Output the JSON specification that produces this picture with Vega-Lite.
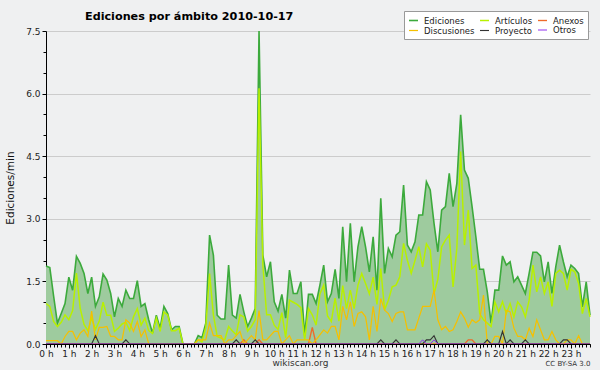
{
"$schema": "https://vega.github.io/schema/vega-lite/v6.json",
"width": 544, "height": 313,
"autosize": {"type": "none"},
"padding": {"left": 46, "top": 31, "right": 10, "bottom": 26},
"background": "#eff0f1",
"title": {"text": "Ediciones por ámbito  2010-10-17", "anchor": "start", "frame": "group", "dx": 39, "dy": 21, "fontSize": 11.2, "font": "DejaVu Sans", "fontWeight": "bold", "color": "#000000", "baseline": "alphabetic", "offset": 0},
"config": {"view": {"stroke": null, "fill": "#eff0f1"}, "font": "DejaVu Sans"},
"data": {"values": [
{"t":0,"Ediciones":1.87,"Artículos":0.97,"Discusiones":0.08,"Anexos":0,"Proyecto":0,"Otros":0},
{"t":10,"Ediciones":1.83,"Artículos":0.90,"Discusiones":0.08,"Anexos":0,"Proyecto":0,"Otros":0},
{"t":20,"Ediciones":1.15,"Artículos":0.54,"Discusiones":0.08,"Anexos":0,"Proyecto":0,"Otros":0},
{"t":30,"Ediciones":0.50,"Artículos":0.42,"Discusiones":0.08,"Anexos":0,"Proyecto":0,"Otros":0},
{"t":40,"Ediciones":0.73,"Artículos":0.52,"Discusiones":0,"Anexos":0,"Proyecto":0,"Otros":0},
{"t":50,"Ediciones":0.97,"Artículos":0.70,"Discusiones":0.18,"Anexos":0,"Proyecto":0,"Otros":0},
{"t":60,"Ediciones":1.60,"Artículos":0.58,"Discusiones":0.30,"Anexos":0,"Proyecto":0,"Otros":0},
{"t":70,"Ediciones":1.29,"Artículos":0.80,"Discusiones":0.30,"Anexos":0,"Proyecto":0,"Otros":0},
{"t":80,"Ediciones":2.10,"Artículos":1.70,"Discusiones":0.10,"Anexos":0,"Proyecto":0,"Otros":0},
{"t":90,"Ediciones":1.93,"Artículos":0.85,"Discusiones":0.26,"Anexos":0,"Proyecto":0,"Otros":0},
{"t":100,"Ediciones":1.69,"Artículos":0.47,"Discusiones":0.34,"Anexos":0,"Proyecto":0,"Otros":0},
{"t":110,"Ediciones":1.21,"Artículos":0.32,"Discusiones":0.18,"Anexos":0,"Proyecto":0,"Otros":0},
{"t":120,"Ediciones":1.60,"Artículos":0.62,"Discusiones":0.79,"Anexos":0,"Proyecto":0,"Otros":0},
{"t":130,"Ediciones":0.90,"Artículos":0.35,"Discusiones":0.10,"Anexos":0,"Proyecto":0.2,"Otros":0},
{"t":140,"Ediciones":1.13,"Artículos":0.55,"Discusiones":0.40,"Anexos":0,"Proyecto":0,"Otros":0},
{"t":150,"Ediciones":1.68,"Artículos":1.00,"Discusiones":0.40,"Anexos":0,"Proyecto":0,"Otros":0},
{"t":160,"Ediciones":1.53,"Artículos":0.69,"Discusiones":0.42,"Anexos":0,"Proyecto":0,"Otros":0},
{"t":170,"Ediciones":1.21,"Artículos":0.69,"Discusiones":0.18,"Anexos":0,"Proyecto":0,"Otros":0},
{"t":180,"Ediciones":0.65,"Artículos":0.30,"Discusiones":0.18,"Anexos":0,"Proyecto":0,"Otros":0},
{"t":190,"Ediciones":1.09,"Artículos":0.38,"Discusiones":0.10,"Anexos":0,"Proyecto":0,"Otros":0},
{"t":200,"Ediciones":0.90,"Artículos":0.48,"Discusiones":0.10,"Anexos":0,"Proyecto":0,"Otros":0},
{"t":210,"Ediciones":1.29,"Artículos":0.52,"Discusiones":0.58,"Anexos":0,"Proyecto":0.1,"Otros":0},
{"t":220,"Ediciones":1.09,"Artículos":0.32,"Discusiones":0.50,"Anexos":0,"Proyecto":0,"Otros":0},
{"t":230,"Ediciones":1.09,"Artículos":0.65,"Discusiones":0.30,"Anexos":0,"Proyecto":0,"Otros":0},
{"t":240,"Ediciones":1.52,"Artículos":0.85,"Discusiones":0.54,"Anexos":0,"Proyecto":0,"Otros":0},
{"t":250,"Ediciones":0.90,"Artículos":0.45,"Discusiones":0.18,"Anexos":0,"Proyecto":0,"Otros":0},
{"t":260,"Ediciones":0.97,"Artículos":0.62,"Discusiones":0.34,"Anexos":0,"Proyecto":0,"Otros":0},
{"t":270,"Ediciones":0.58,"Artículos":0.32,"Discusiones":0,"Anexos":0,"Proyecto":0,"Otros":0},
{"t":280,"Ediciones":0.26,"Artículos":0.25,"Discusiones":0,"Anexos":0,"Proyecto":0,"Otros":0},
{"t":290,"Ediciones":0.69,"Artículos":0.62,"Discusiones":0,"Anexos":0,"Proyecto":0,"Otros":0},
{"t":300,"Ediciones":0.38,"Artículos":0.30,"Discusiones":0,"Anexos":0,"Proyecto":0,"Otros":0},
{"t":310,"Ediciones":0.90,"Artículos":0.77,"Discusiones":0,"Anexos":0,"Proyecto":0,"Otros":0},
{"t":320,"Ediciones":0.73,"Artículos":0.69,"Discusiones":0,"Anexos":0,"Proyecto":0,"Otros":0},
{"t":330,"Ediciones":0.34,"Artículos":0.32,"Discusiones":0,"Anexos":0,"Proyecto":0,"Otros":0},
{"t":340,"Ediciones":0.42,"Artículos":0.32,"Discusiones":0,"Anexos":0,"Proyecto":0,"Otros":0},
{"t":350,"Ediciones":0.42,"Artículos":0.38,"Discusiones":0,"Anexos":0,"Proyecto":0,"Otros":0},
{"t":360,"Ediciones":0,"Artículos":0,"Discusiones":0,"Anexos":0,"Proyecto":0,"Otros":0},
{"t":370,"Ediciones":0,"Artículos":0,"Discusiones":0,"Anexos":0,"Proyecto":0,"Otros":0},
{"t":380,"Ediciones":0,"Artículos":0,"Discusiones":0,"Anexos":0,"Proyecto":0,"Otros":0},
{"t":390,"Ediciones":0,"Artículos":0,"Discusiones":0,"Anexos":0,"Proyecto":0,"Otros":0},
{"t":400,"Ediciones":0.20,"Artículos":0.10,"Discusiones":0.10,"Anexos":0,"Proyecto":0,"Otros":0},
{"t":410,"Ediciones":0.15,"Artículos":0.05,"Discusiones":0.10,"Anexos":0,"Proyecto":0,"Otros":0},
{"t":420,"Ediciones":0.50,"Artículos":0.40,"Discusiones":0.10,"Anexos":0,"Proyecto":0,"Otros":0},
{"t":430,"Ediciones":2.61,"Artículos":1.69,"Discusiones":0.50,"Anexos":0,"Proyecto":0,"Otros":0},
{"t":440,"Ediciones":2.13,"Artículos":0.70,"Discusiones":0.20,"Anexos":0,"Proyecto":0,"Otros":0},
{"t":450,"Ediciones":0.69,"Artículos":0.18,"Discusiones":0.20,"Anexos":0,"Proyecto":0,"Otros":0},
{"t":460,"Ediciones":0.60,"Artículos":0.14,"Discusiones":0.20,"Anexos":0,"Proyecto":0,"Otros":0},
{"t":470,"Ediciones":0.60,"Artículos":0.10,"Discusiones":0,"Anexos":0,"Proyecto":0,"Otros":0},
{"t":480,"Ediciones":1.89,"Artículos":0.42,"Discusiones":0.10,"Anexos":0,"Proyecto":0,"Otros":0},
{"t":490,"Ediciones":0.69,"Artículos":0.31,"Discusiones":0.10,"Anexos":0,"Proyecto":0,"Otros":0},
{"t":500,"Ediciones":0.62,"Artículos":0.22,"Discusiones":0.20,"Anexos":0,"Proyecto":0.1,"Otros":0},
{"t":510,"Ediciones":1.19,"Artículos":0.70,"Discusiones":0.30,"Anexos":0,"Proyecto":0,"Otros":0},
{"t":520,"Ediciones":0.77,"Artículos":0.65,"Discusiones":0,"Anexos":0.1,"Proyecto":0,"Otros":0},
{"t":530,"Ediciones":0.42,"Artículos":0.31,"Discusiones":0.10,"Anexos":0,"Proyecto":0,"Otros":0},
{"t":540,"Ediciones":0.62,"Artículos":0.42,"Discusiones":0.20,"Anexos":0,"Proyecto":0,"Otros":0},
{"t":550,"Ediciones":0.85,"Artículos":0.58,"Discusiones":0.10,"Anexos":0,"Proyecto":0.1,"Otros":0},
{"t":560,"Ediciones":7.50,"Artículos":6.13,"Discusiones":0.80,"Anexos":0.1,"Proyecto":0,"Otros":0},
{"t":570,"Ediciones":2.13,"Artículos":1.90,"Discusiones":0.10,"Anexos":0,"Proyecto":0,"Otros":0},
{"t":580,"Ediciones":1.61,"Artículos":0.70,"Discusiones":0.10,"Anexos":0,"Proyecto":0,"Otros":0},
{"t":590,"Ediciones":1.97,"Artículos":0.70,"Discusiones":0.20,"Anexos":0,"Proyecto":0,"Otros":0},
{"t":600,"Ediciones":1.01,"Artículos":0.45,"Discusiones":0.30,"Anexos":0,"Proyecto":0,"Otros":0},
{"t":610,"Ediciones":0.79,"Artículos":0.35,"Discusiones":0.30,"Anexos":0,"Proyecto":0,"Otros":0},
{"t":620,"Ediciones":1.19,"Artículos":0.75,"Discusiones":0,"Anexos":0,"Proyecto":0,"Otros":0},
{"t":630,"Ediciones":0.62,"Artículos":0.15,"Discusiones":0.10,"Anexos":0,"Proyecto":0,"Otros":0},
{"t":640,"Ediciones":1.77,"Artículos":1.05,"Discusiones":0.20,"Anexos":0,"Proyecto":0,"Otros":0},
{"t":650,"Ediciones":1.21,"Artículos":1.00,"Discusiones":0,"Anexos":0,"Proyecto":0,"Otros":0},
{"t":660,"Ediciones":1.21,"Artículos":0.95,"Discusiones":0.10,"Anexos":0,"Proyecto":0,"Otros":0},
{"t":670,"Ediciones":1.49,"Artículos":0.87,"Discusiones":0.10,"Anexos":0,"Proyecto":0,"Otros":0},
{"t":680,"Ediciones":0.20,"Artículos":0.10,"Discusiones":0.10,"Anexos":0,"Proyecto":0,"Otros":0},
{"t":690,"Ediciones":1.19,"Artículos":0.85,"Discusiones":0.10,"Anexos":0,"Proyecto":0,"Otros":0},
{"t":700,"Ediciones":1.19,"Artículos":0.70,"Discusiones":0,"Anexos":0.4,"Proyecto":0,"Otros":0},
{"t":710,"Ediciones":0.97,"Artículos":0.45,"Discusiones":0.10,"Anexos":0,"Proyecto":0,"Otros":0},
{"t":720,"Ediciones":1.41,"Artículos":1.20,"Discusiones":0.22,"Anexos":0,"Proyecto":0,"Otros":0},
{"t":730,"Ediciones":1.89,"Artículos":1.41,"Discusiones":0.34,"Anexos":0,"Proyecto":0,"Otros":0},
{"t":740,"Ediciones":1.01,"Artículos":0.67,"Discusiones":0.26,"Anexos":0,"Proyecto":0,"Otros":0},
{"t":750,"Ediciones":1.21,"Artículos":0.54,"Discusiones":0.42,"Anexos":0,"Proyecto":0,"Otros":0},
{"t":760,"Ediciones":1.79,"Artículos":1.10,"Discusiones":0.42,"Anexos":0,"Proyecto":0,"Otros":0},
{"t":770,"Ediciones":1.09,"Artículos":0.55,"Discusiones":0.10,"Anexos":0,"Proyecto":0,"Otros":0},
{"t":780,"Ediciones":2.81,"Artículos":1.40,"Discusiones":0.90,"Anexos":0,"Proyecto":0,"Otros":0},
{"t":790,"Ediciones":1.49,"Artículos":0.85,"Discusiones":0.58,"Anexos":0,"Proyecto":0,"Otros":0},
{"t":800,"Ediciones":2.89,"Artículos":1.29,"Discusiones":1.01,"Anexos":0,"Proyecto":0,"Otros":0},
{"t":810,"Ediciones":1.49,"Artículos":0.85,"Discusiones":0.42,"Anexos":0,"Proyecto":0,"Otros":0},
{"t":820,"Ediciones":2.33,"Artículos":1.41,"Discusiones":0.73,"Anexos":0,"Proyecto":0,"Otros":0},
{"t":830,"Ediciones":2.81,"Artículos":1.69,"Discusiones":0.77,"Anexos":0,"Proyecto":0,"Otros":0},
{"t":840,"Ediciones":2.33,"Artículos":1.45,"Discusiones":0.65,"Anexos":0,"Proyecto":0,"Otros":0},
{"t":850,"Ediciones":1.73,"Artículos":1.20,"Discusiones":0.10,"Anexos":0,"Proyecto":0,"Otros":0},
{"t":860,"Ediciones":2.57,"Artículos":1.60,"Discusiones":0.90,"Anexos":0,"Proyecto":0,"Otros":0},
{"t":870,"Ediciones":1.29,"Artículos":0.95,"Discusiones":0.30,"Anexos":0,"Proyecto":0,"Otros":0},
{"t":880,"Ediciones":3.49,"Artículos":1.81,"Discusiones":1.09,"Anexos":0,"Proyecto":0.1,"Otros":0},
{"t":890,"Ediciones":1.69,"Artículos":0.82,"Discusiones":0.81,"Anexos":0,"Proyecto":0,"Otros":0},
{"t":900,"Ediciones":2.29,"Artículos":1.05,"Discusiones":0.73,"Anexos":0,"Proyecto":0,"Otros":0},
{"t":910,"Ediciones":2.09,"Artículos":1.37,"Discusiones":0.54,"Anexos":0,"Proyecto":0,"Otros":0},
{"t":920,"Ediciones":2.61,"Artículos":1.41,"Discusiones":0.73,"Anexos":0,"Proyecto":0.1,"Otros":0},
{"t":930,"Ediciones":2.69,"Artículos":1.61,"Discusiones":0.77,"Anexos":0,"Proyecto":0,"Otros":0},
{"t":940,"Ediciones":3.81,"Artículos":2.41,"Discusiones":0.77,"Anexos":0,"Proyecto":0,"Otros":0},
{"t":950,"Ediciones":2.37,"Artículos":2.00,"Discusiones":0.34,"Anexos":0,"Proyecto":0,"Otros":0},
{"t":960,"Ediciones":2.21,"Artículos":1.69,"Discusiones":0.34,"Anexos":0,"Proyecto":0,"Otros":0},
{"t":970,"Ediciones":2.45,"Artículos":2.00,"Discusiones":0.34,"Anexos":0,"Proyecto":0,"Otros":0},
{"t":980,"Ediciones":3.09,"Artículos":2.33,"Discusiones":0.62,"Anexos":0,"Proyecto":0,"Otros":0},
{"t":990,"Ediciones":3.09,"Artículos":1.85,"Discusiones":0.90,"Anexos":0,"Proyecto":0,"Otros":0.1},
{"t":1000,"Ediciones":3.89,"Artículos":2.40,"Discusiones":0.90,"Anexos":0,"Proyecto":0.1,"Otros":0},
{"t":1010,"Ediciones":3.69,"Artículos":2.25,"Discusiones":0.90,"Anexos":0,"Proyecto":0.1,"Otros":0},
{"t":1020,"Ediciones":2.89,"Artículos":1.20,"Discusiones":1.29,"Anexos":0,"Proyecto":0.2,"Otros":0.1},
{"t":1030,"Ediciones":2.21,"Artículos":1.55,"Discusiones":0.58,"Anexos":0,"Proyecto":0,"Otros":0},
{"t":1040,"Ediciones":3.21,"Artículos":2.33,"Discusiones":0.34,"Anexos":0,"Proyecto":0,"Otros":0},
{"t":1050,"Ediciones":3.29,"Artículos":2.49,"Discusiones":0.42,"Anexos":0,"Proyecto":0,"Otros":0},
{"t":1060,"Ediciones":4.09,"Artículos":2.61,"Discusiones":0.30,"Anexos":0,"Proyecto":0,"Otros":0},
{"t":1070,"Ediciones":3.29,"Artículos":1.37,"Discusiones":0.34,"Anexos":0,"Proyecto":0,"Otros":0},
{"t":1080,"Ediciones":3.85,"Artículos":2.30,"Discusiones":0.54,"Anexos":0,"Proyecto":0,"Otros":0},
{"t":1090,"Ediciones":5.49,"Artículos":4.61,"Discusiones":0.77,"Anexos":0,"Proyecto":0,"Otros":0},
{"t":1100,"Ediciones":4.17,"Artículos":2.37,"Discusiones":0.62,"Anexos":0,"Proyecto":0,"Otros":0},
{"t":1110,"Ediciones":3.97,"Artículos":3.21,"Discusiones":0.40,"Anexos":0.1,"Proyecto":0,"Otros":0},
{"t":1120,"Ediciones":3.29,"Artículos":1.81,"Discusiones":0.58,"Anexos":0.1,"Proyecto":0,"Otros":0},
{"t":1130,"Ediciones":2.57,"Artículos":1.89,"Discusiones":0.51,"Anexos":0,"Proyecto":0,"Otros":0},
{"t":1140,"Ediciones":1.79,"Artículos":0.73,"Discusiones":0.58,"Anexos":0,"Proyecto":0,"Otros":0},
{"t":1150,"Ediciones":1.79,"Artículos":0.58,"Discusiones":1.17,"Anexos":0,"Proyecto":0,"Otros":0},
{"t":1160,"Ediciones":1.25,"Artículos":0.50,"Discusiones":0,"Anexos":0,"Proyecto":0.1,"Otros":0},
{"t":1170,"Ediciones":0.50,"Artículos":0.42,"Discusiones":0,"Anexos":0,"Proyecto":0,"Otros":0},
{"t":1180,"Ediciones":1.29,"Artículos":1.01,"Discusiones":0.18,"Anexos":0,"Proyecto":0,"Otros":0},
{"t":1190,"Ediciones":1.29,"Artículos":0.77,"Discusiones":0.18,"Anexos":0,"Proyecto":0,"Otros":0},
{"t":1200,"Ediciones":2.11,"Artículos":1.01,"Discusiones":0,"Anexos":0,"Proyecto":0.3,"Otros":0},
{"t":1210,"Ediciones":1.89,"Artículos":0.73,"Discusiones":0.81,"Anexos":0,"Proyecto":0,"Otros":0},
{"t":1220,"Ediciones":1.97,"Artículos":0.97,"Discusiones":0.77,"Anexos":0,"Proyecto":0.1,"Otros":0},
{"t":1230,"Ediciones":1.49,"Artículos":0.65,"Discusiones":0.38,"Anexos":0,"Proyecto":0,"Otros":0},
{"t":1240,"Ediciones":1.61,"Artículos":1.01,"Discusiones":0.18,"Anexos":0,"Proyecto":0,"Otros":0},
{"t":1250,"Ediciones":1.41,"Artículos":0.89,"Discusiones":0.18,"Anexos":0,"Proyecto":0,"Otros":0},
{"t":1260,"Ediciones":1.21,"Artículos":0.65,"Discusiones":0.10,"Anexos":0,"Proyecto":0.1,"Otros":0},
{"t":1270,"Ediciones":1.69,"Artículos":1.05,"Discusiones":0.38,"Anexos":0,"Proyecto":0,"Otros":0},
{"t":1280,"Ediciones":2.20,"Artículos":1.89,"Discusiones":0.18,"Anexos":0,"Proyecto":0,"Otros":0},
{"t":1290,"Ediciones":2.20,"Artículos":1.25,"Discusiones":0.58,"Anexos":0,"Proyecto":0,"Otros":0},
{"t":1300,"Ediciones":2.11,"Artículos":1.61,"Discusiones":0.34,"Anexos":0,"Proyecto":0,"Otros":0},
{"t":1310,"Ediciones":1.49,"Artículos":1.21,"Discusiones":0.10,"Anexos":0,"Proyecto":0,"Otros":0},
{"t":1320,"Ediciones":1.97,"Artículos":1.49,"Discusiones":0.10,"Anexos":0,"Proyecto":0,"Otros":0},
{"t":1330,"Ediciones":1.21,"Artículos":0.90,"Discusiones":0.30,"Anexos":0,"Proyecto":0,"Otros":0},
{"t":1340,"Ediciones":1.85,"Artículos":1.69,"Discusiones":0.10,"Anexos":0,"Proyecto":0,"Otros":0},
{"t":1350,"Ediciones":2.37,"Artículos":1.77,"Discusiones":0,"Anexos":0,"Proyecto":0,"Otros":0},
{"t":1360,"Ediciones":1.97,"Artículos":1.69,"Discusiones":0,"Anexos":0,"Proyecto":0.1,"Otros":0},
{"t":1370,"Ediciones":1.61,"Artículos":1.29,"Discusiones":0.10,"Anexos":0,"Proyecto":0.1,"Otros":0},
{"t":1380,"Ediciones":1.89,"Artículos":1.79,"Discusiones":0.10,"Anexos":0,"Proyecto":0,"Otros":0},
{"t":1390,"Ediciones":1.81,"Artículos":1.73,"Discusiones":0,"Anexos":0,"Proyecto":0,"Otros":0},
{"t":1400,"Ediciones":1.69,"Artículos":1.45,"Discusiones":0.20,"Anexos":0,"Proyecto":0,"Otros":0},
{"t":1410,"Ediciones":0.89,"Artículos":0.73,"Discusiones":0,"Anexos":0,"Proyecto":0,"Otros":0},
{"t":1420,"Ediciones":1.49,"Artículos":1.09,"Discusiones":0,"Anexos":0,"Proyecto":0,"Otros":0},
{"t":1430,"Ediciones":0.69,"Artículos":0.65,"Discusiones":0,"Anexos":0,"Proyecto":0,"Otros":0}
]},
"layer": [
{
"mark": {"type": "area", "color": "#9ecb9e", "opacity": 1},
"encoding": {
"x": {"field": "t", "type": "quantitative", "scale": {"domain": [0, 1430], "nice": false, "zero": false},
"axis": {"orient": "bottom", "values": [0,60,120,180,240,300,360,420,480,540,600,660,720,780,840,900,960,1020,1080,1140,1200,1260,1320,1380], "labelExpr": "floor(datum.value / 60) + ' h'", "grid": false, "tickSize": 4, "tickColor": "#000000", "domainColor": "#000000", "labelFontSize": 9, "labelColor": "#222222", "labelPadding": 1, "labelFlush": false, "labelOverlap": false, "zindex": 1, "title": "wikiscan.org", "titleFontSize": 9, "titleFontWeight": "normal", "titleColor": "#333333", "titleX": 254, "titleY": 21, "titleBaseline": "alphabetic", "titleAlign": "center"}},
"y": {"field": "Ediciones", "type": "quantitative", "scale": {"domain": [0, 7.5], "nice": false},
"axis": {"orient": "left", "values": [0, 1.5, 3, 4.5, 6, 7.5], "format": ".1f", "grid": true, "gridColor": "#cccccc", "tickSize": 4, "tickColor": "#000000", "domainColor": "#000000", "labelFontSize": 9, "labelColor": "#222222", "labelPadding": 2, "zindex": 0, "title": "Ediciones/min", "titleFontSize": 10.5, "titleFontWeight": "normal", "titleColor": "#111111", "titlePadding": 10}}
}
},
{
"transform": [{"fold": ["Ediciones", "Artículos", "Anexos", "Discusiones", "Proyecto", "Otros"], "as": ["serie", "valor"]}],
"mark": {"type": "line"},
"encoding": {
"x": {"field": "t", "type": "quantitative",
"axis": {"orient": "bottom", "values": [0,10,20,30,40,50,60,70,80,90,100,110,120,130,140,150,160,170,180,190,200,210,220,230,240,250,260,270,280,290,300,310,320,330,340,350,360,370,380,390,400,410,420,430,440,450,460,470,480,490,500,510,520,530,540,550,560,570,580,590,600,610,620,630,640,650,660,670,680,690,700,710,720,730,740,750,760,770,780,790,800,810,820,830,840,850,860,870,880,890,900,910,920,930,940,950,960,970,980,990,1000,1010,1020,1030,1040,1050,1060,1070,1080,1090,1100,1110,1120,1130,1140,1150,1160,1170,1180,1190,1200,1210,1220,1230,1240,1250,1260,1270,1280,1290,1300,1310,1320,1330,1340,1350,1360,1370,1380,1390,1400,1410,1420,1430], "labels": false, "grid": false, "domain": true, "domainColor": "#000000", "tickSize": 3, "tickColor": "#000000", "zindex": 1, "title": "CC BY-SA 3.0", "titleFontSize": 7, "titleFontWeight": "normal", "titleColor": "#333333", "titleX": 544, "titleY": 21, "titleAlign": "right", "titleBaseline": "alphabetic"}},
"y": {"field": "valor", "type": "quantitative",
"axis": {"orient": "left", "values": [0.5, 1, 2, 2.5, 3.5, 4, 5, 5.5, 6.5, 7], "labels": false, "grid": false, "domain": false, "tickSize": 3, "tickColor": "#000000", "title": null}},
"color": {"field": "serie", "type": "nominal",
"scale": {"domain": ["Ediciones", "Artículos", "Anexos", "Discusiones", "Proyecto", "Otros"], "range": ["#3caa3c", "#b8f000", "#ee6a2a", "#f5c000", "#333333", "#9030f0"]},
"legend": {"orient": "none", "legendX": 358, "legendY": -20, "direction": "horizontal", "columns": 3, "title": null, "fillColor": "#ffffff", "strokeColor": "#999999", "padding": 4, "symbolType": "stroke", "symbolSize": 81, "symbolStrokeWidth": 1.5, "labelFontSize": 8.5, "labelColor": "#222222", "labelOffset": 5, "columnPadding": 2, "rowPadding": 0}},
"strokeWidth": {"field": "serie", "type": "ordinal", "scale": {"domain": ["Ediciones", "Artículos", "Anexos", "Discusiones", "Proyecto", "Otros"], "range": [1.6, 1, 1, 1, 1, 1]}, "legend": null}
}
}
],
"resolve": {"axis": {"x": "independent", "y": "independent"}}
}
